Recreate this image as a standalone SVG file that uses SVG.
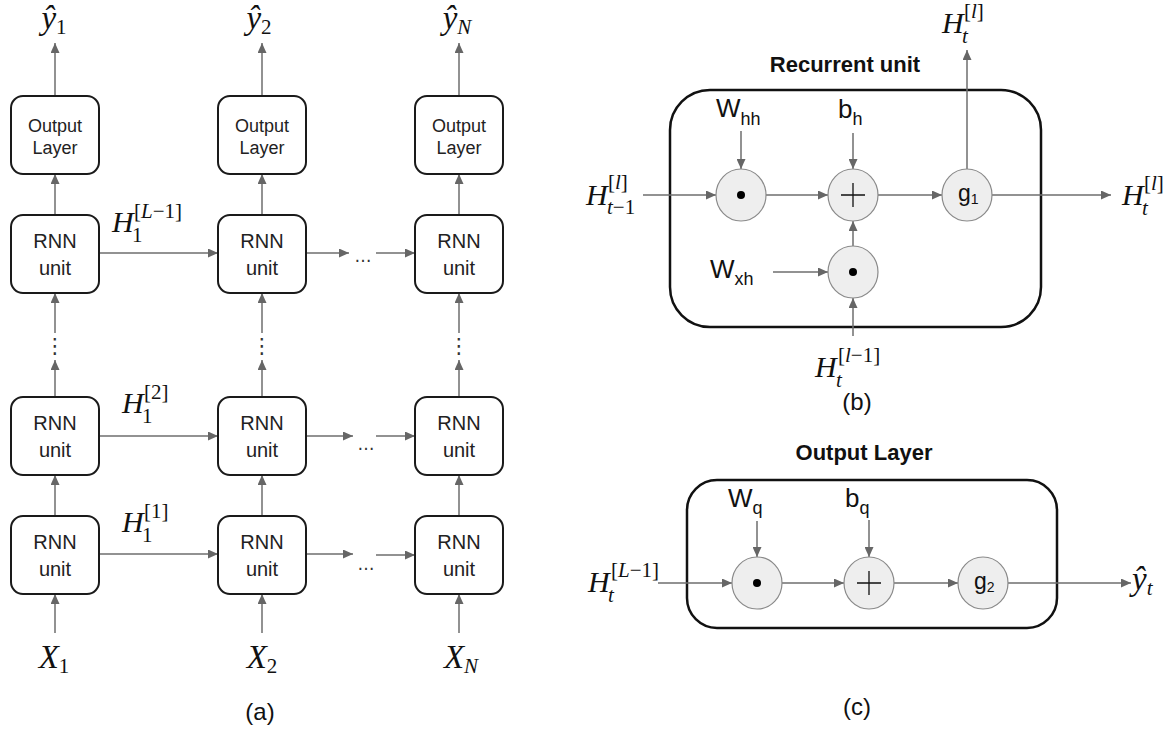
<svg xmlns="http://www.w3.org/2000/svg" width="1169" height="729" viewBox="0 0 1169 729">
  <style>
    .box { fill: #ffffff; stroke: #1a1a1a; stroke-width: 2; }
    .frame { fill: none; stroke: #111111; stroke-width: 2.5; }
    .op { fill: #eeeeee; stroke: #8a8a8a; stroke-width: 1.2; }
    .wire { stroke: #6e6e6e; stroke-width: 1.5; fill: none; marker-end: url(#ah); }
    .lbl { font-family: "Liberation Sans", Arial, sans-serif; font-size: 20px; fill: #222222; text-anchor: middle; }
    .lbl-s { font-family: "Liberation Sans", Arial, sans-serif; font-size: 18px; fill: #222222; text-anchor: middle; }
    .math { font-family: "Liberation Serif", "Times New Roman", serif; font-style: italic; font-size: 30px; fill: #111111; }
    .big { font-size: 33px; }
    .up { font-style: normal; }
    .it { font-style: italic; }
    .sc { font-size: 21px; }
    .sans { font-family: "Liberation Sans", Arial, sans-serif; fill: #111111; }
    .title { font-family: "Liberation Sans", Arial, sans-serif; font-weight: bold; font-size: 22px; fill: #111111; text-anchor: middle; }
    .cap { font-family: "Liberation Sans", Arial, sans-serif; font-size: 24px; fill: #111111; text-anchor: middle; }
    .dots { font-family: "DejaVu Sans", "Liberation Sans", sans-serif; font-size: 17px; fill: #333333; text-anchor: middle; }
    .vdots { font-family: "DejaVu Sans", "Liberation Sans", sans-serif; font-size: 21px; fill: #333333; text-anchor: middle; }
  </style>
  <defs>
    <marker id="ah" markerWidth="10" markerHeight="9" refX="10" refY="4.5" orient="auto" markerUnits="userSpaceOnUse">
      <path d="M0,0 L10,4.5 L0,9 z" fill="#666666"/>
    </marker>
  </defs>
  <rect width="1169" height="729" fill="#ffffff"/>

  <!-- ===== (a) unrolled multi-layer RNN ===== -->
  <g id="connectors-a">
    <!-- outputs -->
    <line class="wire" x1="55" y1="96" x2="55" y2="43"/>
    <line class="wire" x1="262" y1="96" x2="262" y2="43"/>
    <line class="wire" x1="459" y1="96" x2="459" y2="43"/>
    <!-- top RNN to output layer -->
    <line class="wire" x1="55" y1="215" x2="55" y2="174"/>
    <line class="wire" x1="262" y1="215" x2="262" y2="174"/>
    <line class="wire" x1="459" y1="215" x2="459" y2="174"/>
    <!-- skipped layers -->
    <line class="wire" x1="55" y1="333" x2="55" y2="293"/>
    <line class="wire" x1="262" y1="333" x2="262" y2="293"/>
    <line class="wire" x1="459" y1="333" x2="459" y2="293"/>
    <line class="wire" x1="55" y1="396" x2="55" y2="360"/>
    <line class="wire" x1="262" y1="396" x2="262" y2="360"/>
    <line class="wire" x1="459" y1="396" x2="459" y2="360"/>
    <!-- layer 1 to layer 2 -->
    <line class="wire" x1="55" y1="516" x2="55" y2="475"/>
    <line class="wire" x1="262" y1="516" x2="262" y2="475"/>
    <line class="wire" x1="459" y1="516" x2="459" y2="475"/>
    <!-- inputs -->
    <line class="wire" x1="55" y1="633" x2="55" y2="594"/>
    <line class="wire" x1="262" y1="633" x2="262" y2="594"/>
    <line class="wire" x1="459" y1="633" x2="459" y2="594"/>
    <!-- hidden states across time -->
    <line class="wire" x1="99" y1="253" x2="218" y2="253"/>
    <line class="wire" x1="306" y1="253" x2="349" y2="253"/>
    <line class="wire" x1="376" y1="253" x2="415" y2="253"/>
    <line class="wire" x1="99" y1="436" x2="218" y2="436"/>
    <line class="wire" x1="306" y1="436" x2="353" y2="436"/>
    <line class="wire" x1="376" y1="436" x2="415" y2="436"/>
    <line class="wire" x1="99" y1="554" x2="218" y2="554"/>
    <line class="wire" x1="306" y1="554" x2="353" y2="554"/>
    <line class="wire" x1="376" y1="555" x2="415" y2="555"/>
  </g>

  <g id="out-1"><rect class="box" x="11" y="96" width="88" height="78" rx="12"/><text class="lbl-s" x="55" y="132">Output</text><text class="lbl-s" x="55" y="154">Layer</text></g>
  <g id="out-2"><rect class="box" x="218" y="96" width="88" height="78" rx="12"/><text class="lbl-s" x="262" y="132">Output</text><text class="lbl-s" x="262" y="154">Layer</text></g>
  <g id="out-N"><rect class="box" x="415" y="96" width="88" height="78" rx="12"/><text class="lbl-s" x="459" y="132">Output</text><text class="lbl-s" x="459" y="154">Layer</text></g>

  <g id="rnn-L-1"><rect class="box" x="11" y="215" width="88" height="78" rx="12"/><text class="lbl" x="55" y="248">RNN</text><text class="lbl" x="55" y="275">unit</text></g>
  <g id="rnn-L-2"><rect class="box" x="218" y="215" width="88" height="78" rx="12"/><text class="lbl" x="262" y="248">RNN</text><text class="lbl" x="262" y="275">unit</text></g>
  <g id="rnn-L-N"><rect class="box" x="415" y="215" width="88" height="78" rx="12"/><text class="lbl" x="459" y="248">RNN</text><text class="lbl" x="459" y="275">unit</text></g>

  <g id="rnn-2-1"><rect class="box" x="11" y="397" width="88" height="78" rx="12"/><text class="lbl" x="55" y="430">RNN</text><text class="lbl" x="55" y="457">unit</text></g>
  <g id="rnn-2-2"><rect class="box" x="218" y="397" width="88" height="78" rx="12"/><text class="lbl" x="262" y="430">RNN</text><text class="lbl" x="262" y="457">unit</text></g>
  <g id="rnn-2-N"><rect class="box" x="415" y="397" width="88" height="78" rx="12"/><text class="lbl" x="459" y="430">RNN</text><text class="lbl" x="459" y="457">unit</text></g>

  <g id="rnn-1-1"><rect class="box" x="11" y="516" width="88" height="78" rx="12"/><text class="lbl" x="55" y="549">RNN</text><text class="lbl" x="55" y="576">unit</text></g>
  <g id="rnn-1-2"><rect class="box" x="218" y="516" width="88" height="78" rx="12"/><text class="lbl" x="262" y="549">RNN</text><text class="lbl" x="262" y="576">unit</text></g>
  <g id="rnn-1-N"><rect class="box" x="415" y="516" width="88" height="78" rx="12"/><text class="lbl" x="459" y="549">RNN</text><text class="lbl" x="459" y="576">unit</text></g>

  <g id="ellipses-a">
    <text class="vdots" x="55" y="353">⋮</text>
    <text class="vdots" x="262" y="353">⋮</text>
    <text class="vdots" x="459" y="353">⋮</text>
    <text class="dots" x="363" y="262">…</text>
    <text class="dots" x="366" y="450">…</text>
    <text class="dots" x="366" y="570">…</text>
  </g>

  <g id="labels-a">
    <text class="math big" x="54" y="29" text-anchor="middle">ŷ<tspan class="up sc" dy="5">1</tspan></text>
    <text class="math big" x="259" y="29" text-anchor="middle">ŷ<tspan class="up sc" dy="5">2</tspan></text>
    <text class="math big" x="457" y="29" text-anchor="middle">ŷ<tspan class="sc" dy="5">N</tspan></text>

    <text class="math" x="112" y="232">H</text>
    <text class="math sc up" x="132" y="242">1</text>
    <text class="math sc up" x="134" y="218">[<tspan class="it">L</tspan>−1]</text>

    <text class="math" x="122" y="413">H</text>
    <text class="math sc up" x="142" y="423">1</text>
    <text class="math sc up" x="144" y="399">[2]</text>

    <text class="math" x="122" y="532">H</text>
    <text class="math sc up" x="142" y="542">1</text>
    <text class="math sc up" x="144" y="518">[1]</text>

    <text class="math big" x="54" y="668" text-anchor="middle">X<tspan class="up sc" dy="5">1</tspan></text>
    <text class="math big" x="262" y="668" text-anchor="middle">X<tspan class="up sc" dy="5">2</tspan></text>
    <text class="math big" x="461" y="668" text-anchor="middle">X<tspan class="sc" dy="5">N</tspan></text>

    <text class="cap" x="260" y="720">(a)</text>
  </g>

  <!-- ===== (b) recurrent unit ===== -->
  <g id="recurrent-unit">
    <text class="title" x="845" y="72">Recurrent unit</text>
    <rect class="frame" x="670" y="90" width="371" height="237" rx="40"/>
  </g>

  <g id="connectors-b">
    <line class="wire" x1="741" y1="131" x2="741" y2="169"/>
    <line class="wire" x1="853" y1="133" x2="853" y2="169"/>
    <line class="wire" x1="643" y1="195" x2="716" y2="195"/>
    <line class="wire" x1="766" y1="195" x2="828" y2="195"/>
    <line class="wire" x1="878" y1="195" x2="942" y2="195"/>
    <line class="wire" x1="992" y1="195" x2="1111" y2="195"/>
    <line class="wire" x1="967" y1="169" x2="967" y2="50"/>
    <line class="wire" x1="853" y1="246" x2="853" y2="221"/>
    <line class="wire" x1="853" y1="336" x2="853" y2="298"/>
    <line class="wire" x1="773" y1="272" x2="828" y2="272"/>
  </g>

  <g id="mul-hh"><ellipse class="op" cx="741" cy="195" rx="25" ry="26"/><circle cx="741" cy="195" r="4" fill="#000"/></g>
  <g id="add-h"><ellipse class="op" cx="853" cy="195" rx="25" ry="26"/><path d="M841,195 H865 M853,183 V207" stroke="#111" stroke-width="1.3"/></g>
  <g id="act-g1"><ellipse class="op" cx="967" cy="195" rx="25" ry="26"/><text class="sans" x="958" y="201" font-size="23">g<tspan font-size="14" dy="3">1</tspan></text></g>
  <g id="mul-xh"><ellipse class="op" cx="853" cy="272" rx="25" ry="26"/><circle cx="853" cy="272" r="4" fill="#000"/></g>

  <g id="labels-b">
    <text class="sans" x="716" y="117" font-size="26">W<tspan font-size="18" dy="8">hh</tspan></text>
    <text class="sans" x="838" y="118" font-size="26">b<tspan font-size="18" dy="7">h</tspan></text>
    <text class="sans" x="710" y="278" font-size="26">W<tspan font-size="18" dy="7">xh</tspan></text>

    <text class="math" x="586" y="205">H</text>
    <text class="math sc up" x="608" y="189">[<tspan class="it">l</tspan>]</text>
    <text class="math sc" x="607" y="214">t<tspan class="up">−1</tspan></text>

    <text class="math" x="942" y="33">H</text>
    <text class="math sc up" x="964" y="18">[<tspan class="it">l</tspan>]</text>
    <text class="math sc" x="962" y="43">t</text>

    <text class="math" x="1122" y="205">H</text>
    <text class="math sc up" x="1144" y="190">[<tspan class="it">l</tspan>]</text>
    <text class="math sc" x="1142" y="215">t</text>

    <text class="math" x="815" y="377">H</text>
    <text class="math sc up" x="838" y="362">[<tspan class="it">l</tspan>−1]</text>
    <text class="math sc" x="836" y="387">t</text>

    <text class="cap" x="857" y="410">(b)</text>
  </g>

  <!-- ===== (c) output layer ===== -->
  <g id="output-layer">
    <text class="title" x="864" y="460">Output Layer</text>
    <rect class="frame" x="687" y="480" width="370" height="148" rx="30"/>
  </g>

  <g id="connectors-c">
    <line class="wire" x1="757" y1="521" x2="757" y2="557"/>
    <line class="wire" x1="869" y1="520" x2="869" y2="557"/>
    <line class="wire" x1="658" y1="583" x2="732" y2="583"/>
    <line class="wire" x1="782" y1="583" x2="844" y2="583"/>
    <line class="wire" x1="894" y1="583" x2="958" y2="583"/>
    <line class="wire" x1="1008" y1="583" x2="1131" y2="583"/>
  </g>

  <g id="mul-q"><ellipse class="op" cx="757" cy="583" rx="25" ry="26"/><circle cx="757" cy="583" r="4" fill="#000"/></g>
  <g id="add-q"><ellipse class="op" cx="869" cy="583" rx="25" ry="26"/><path d="M857,583 H881 M869,571 V595" stroke="#111" stroke-width="1.3"/></g>
  <g id="act-g2"><ellipse class="op" cx="983" cy="583" rx="25" ry="26"/><text class="sans" x="974" y="589" font-size="23">g<tspan font-size="14" dy="3">2</tspan></text></g>

  <g id="labels-c">
    <text class="sans" x="728" y="507" font-size="26">W<tspan font-size="18" dy="7">q</tspan></text>
    <text class="sans" x="845" y="507" font-size="26">b<tspan font-size="18" dy="7">q</tspan></text>

    <text class="math" x="588" y="592">H</text>
    <text class="math sc up" x="611" y="577">[<tspan class="it">L</tspan>−1]</text>
    <text class="math sc" x="608" y="602">t</text>

    <text class="math big" x="1132" y="590">ŷ<tspan class="sc" dy="5">t</tspan></text>

    <text class="cap" x="857" y="715">(c)</text>
  </g>
</svg>
